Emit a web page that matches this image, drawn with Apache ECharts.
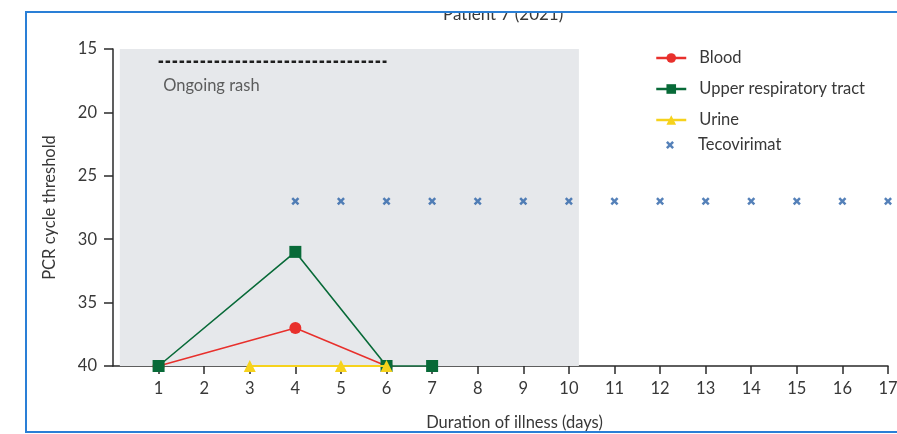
<!DOCTYPE html>
<html>
<head>
<meta charset="utf-8">
<script src="https://cdn.jsdelivr.net/npm/echarts@6/dist/echarts.min.js"></script>
<style>html,body{margin:0;padding:0;background:#fff;}#c{width:897px;height:434px;}</style>
</head>
<body>
<div id="c"></div>
<script>
const xTicks = [1,2,3,4,5,6,7,8,9,10,11,12,13,14,15,16,17];
const yTicks = [15,20,25,30,35,40];
const blood = [[1,40],[4,37],[6,40]];
const urt = [[1,40],[4,31],[6,40],[7,40]];
const urine = [[3,40],[5,40],[6,40]];
const tecovirimat = [[4,27],[5,27],[6,27],[7,27],[8,27],[9,27],[10,27],[11,27],[12,27],[13,27],[14,27],[15,27],[16,27],[17,27]];
const rash = [[1,16],[6,16]];
const rashLabel = [[1.1,17.9]];
const shaded = [0.15, 10.22];

const FONT = 'Lato';
const FS = 16.5;
const TXT = '#383838';
const AX = '#2a2a2a';
const crossPath = 'path://M0,2.2 L2.2,0 L5,2.8 L7.8,0 L10,2.2 L7.2,5 L10,7.8 L7.8,10 L5,7.2 L2.2,10 L0,7.8 L2.8,5 Z';

const chart = echarts.init(document.getElementById('c'), null, {renderer:'canvas'});
chart.setOption({
  animation: false,
  backgroundColor: '#fff',
  textStyle: {fontFamily: FONT},
  grid: {left: 113, top: 49, right: 9, bottom: 68, outerBoundsMode: 'none', containLabel: false},
  legend: [{
    data: ['Blood','Upper respiratory tract','Urine'],
    orient: 'vertical', left: 655, top: 49, padding: 0,
    itemWidth: 30, itemHeight: 12, itemGap: 13,
    lineStyle: {width: 2.5},
    textStyle: {fontFamily: FONT, fontSize: FS, lineHeight: 18, color: TXT, padding: [0,0,0,8]}
  },{
    data: ['Tecovirimat'],
    orient: 'vertical', left: 666, top: 136, padding: 0,
    itemWidth: 30, itemHeight: 8, itemGap: 0,
    textStyle: {fontFamily: FONT, fontSize: FS, lineHeight: 18, color: TXT, padding: [0,0,0,8]}
  }],
  xAxis: {
    type: 'value', min: 0, max: 17, interval: 1,
    name: 'Duration of illness (days)', nameLocation: 'middle', nameGap: 48,
    nameTextStyle: {fontFamily: FONT, fontSize: FS, color: TXT, padding: [0,0,0,28]},
    axisLine: {onZero: false, lineStyle: {color: AX, width: 1.5}},
    axisTick: {length: 8, lineStyle: {color: AX, width: 1.5}, customValues: xTicks},
    axisLabel: {fontFamily: FONT, fontSize: FS, color: TXT, margin: 14, customValues: xTicks},
    splitLine: {show: false}
  },
  yAxis: {
    type: 'value', min: 15, max: 40, interval: 5, inverse: true,
    name: 'PCR cycle threshold', nameLocation: 'middle', nameGap: 55,
    nameTextStyle: {fontFamily: FONT, fontSize: FS, color: TXT},
    axisLine: {show: true, lineStyle: {color: AX, width: 1.5}},
    axisTick: {show: true, length: 9, lineStyle: {color: AX, width: 1.5}},
    axisLabel: {fontFamily: FONT, fontSize: FS, color: TXT, margin: 16},
    splitLine: {show: false}
  },
  series: [
    {
      name: 'shade', type: 'line', data: [], silent: true,
      markArea: {silent: true, itemStyle: {color: '#e6e8eb'},
        data: [[{xAxis: shaded[0], yAxis: 15}, {xAxis: shaded[1], yAxis: 40}]]}
    },
    {
      name: 'rash', type: 'line', data: rash, symbol: 'none', z: 3,
      lineStyle: {color: '#1e1e1e', width: 2.5, type: [4.5, 2.5]}
    },
    {
      name: 'rashLabel', type: 'scatter', data: rashLabel, symbolSize: 0, z: 3,
      label: {show: true, position: 'right', distance: 0, formatter: 'Ongoing rash',
        fontFamily: FONT, fontSize: FS, color: TXT}
    },
    {
      name: 'Blood', type: 'line', data: blood, z: 4,
      symbol: 'circle', symbolSize: 12,
      itemStyle: {color: '#e8302c'},
      lineStyle: {color: '#e8302c', width: 1.5}
    },
    {
      name: 'Upper respiratory tract', type: 'line', data: urt, z: 5,
      symbol: 'rect', symbolSize: 12,
      itemStyle: {color: '#086a38'},
      lineStyle: {color: '#086a38', width: 1.6}
    },
    {
      name: 'Urine', type: 'line', data: urine, z: 6,
      symbol: 'triangle', symbolSize: 12,
      itemStyle: {color: '#f6d21c'},
      lineStyle: {color: '#f6d21c', width: 2}
    },
    {
      name: 'Tecovirimat', type: 'scatter', data: tecovirimat, z: 6,
      symbol: crossPath, symbolSize: 8,
      itemStyle: {color: '#2a62a8'}
    }
  ],
  graphic: [
    {type: 'text', left: 443, top: 6, z: 10,
      style: {text: 'Patient 7 (2021)', font: '17px ' + FONT, fill: TXT}},
    {type: 'rect', shape: {x: 0, y: 0, width: 897, height: 12}, z: 11,
      style: {fill: '#fff'}},
    {type: 'line', shape: {x1: 25, y1: 12, x2: 897, y2: 12}, z: 12,
      style: {stroke: '#2a7fd6', lineWidth: 2}},
    {type: 'line', shape: {x1: 26, y1: 11, x2: 26, y2: 433}, z: 12,
      style: {stroke: '#2a7fd6', lineWidth: 2}},
    {type: 'line', shape: {x1: 25, y1: 432, x2: 897, y2: 432}, z: 12,
      style: {stroke: '#2a7fd6', lineWidth: 2}}
  ]
});
</script>
</body>
</html>
